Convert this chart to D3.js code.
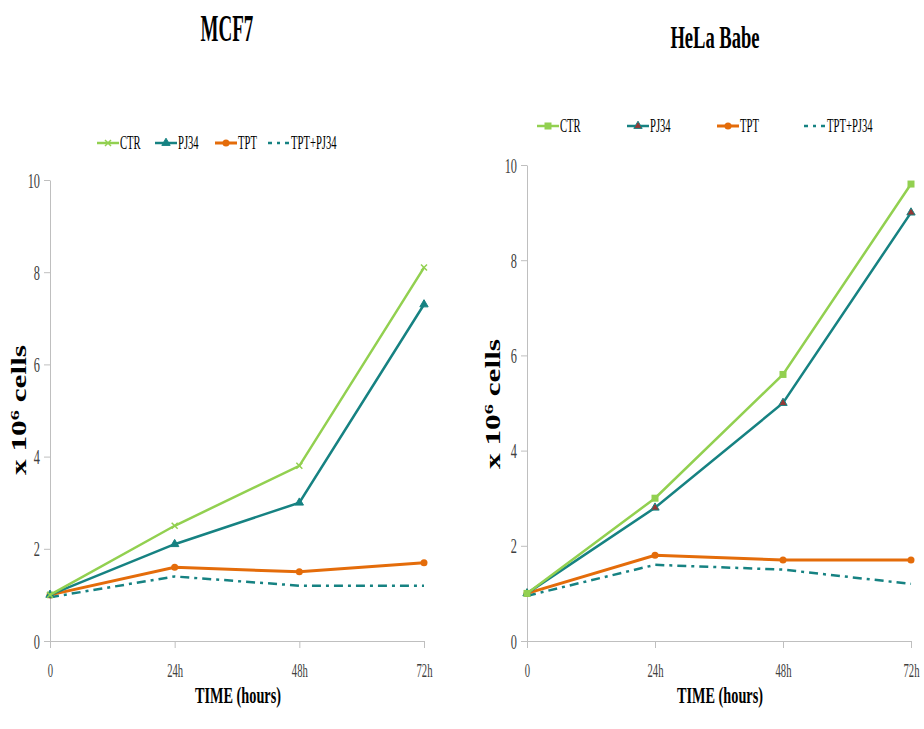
<!DOCTYPE html>
<html>
<head>
<meta charset="utf-8">
<script src="https://cdn.jsdelivr.net/npm/d3@7"></script>
<style>
  body { margin: 0; background: #fff; }
  svg { display: block; font-family: "Liberation Serif", "Times New Roman", serif; }
</style>
</head>
<body>
<svg id="drawing_region"></svg>
<script>
// time points
const times = ['0', '24h', '48h', '72h'];
const yTicks = [0, 2, 4, 6, 8, 10];
const seriesNames = ['CTR', 'PJ34', 'TPT', 'TPT+PJ34'];

// MCF7 (x 10^6 cells)
const mcfCTR   = [1.0, 2.5, 3.8, 8.1];
const mcfPJ34  = [1.0, 2.1, 3.0, 7.3];
const mcfTPT   = [1.0, 1.6, 1.5, 1.7];
const mcfCombo = [0.95, 1.4, 1.2, 1.2];

// HeLa Babe (x 10^6 cells)
const helaCTR   = [1.0, 3.0, 5.6, 9.6];
const helaPJ34  = [1.0, 2.8, 5.0, 9.0];
const helaTPT   = [1.0, 1.8, 1.7, 1.7];
const helaCombo = [0.95, 1.6, 1.5, 1.2];

const svg = d3.select('#drawing_region')
    .attr('width', 924)
    .attr('height', 729);

const styles = {
    'CTR':      {color: '#92d050', width: 2.5, dash: null},
    'PJ34':     {color: '#168282', width: 2.5, dash: null},
    'TPT':      {color: '#e46c0a', width: 3, dash: null},
    'TPT+PJ34': {color: '#168282', width: 2.5, dash: '9,5,3,5'}
};

// text in the picture is condensed horizontally
const SX = 0.56;
function squeeze(sel, x, y, sx) {
    sel.attr('x', 0).attr('y', 0)
        .attr('transform', `translate(${x},${y}) scale(${sx || SX},1)`);
}

function drawMarker(g, name, variant, x, y) {
    const c = styles[name].color;
    if (name === 'CTR') {
        if (variant === 'square') {
            g.append('rect').attr('x', x - 3.5).attr('y', y - 3.5)
                .attr('width', 7).attr('height', 7).attr('fill', c);
        } else {
            g.append('path')
                .attr('d', `M${x-3},${y-3}L${x+3},${y+3}M${x-3},${y+3}L${x+3},${y-3}`)
                .attr('stroke', c).attr('stroke-width', 1.5);
        }
    } else if (name === 'PJ34') {
        g.append('path')
            .attr('d', d3.symbol(d3.symbolTriangle, 30)())
            .attr('transform', `translate(${x},${y})`)
            .attr('fill', variant === 'square' ? '#953735' : c)
            .attr('stroke', c).attr('stroke-width', 1);
    } else if (name === 'TPT') {
        g.append('circle').attr('cx', x).attr('cy', y).attr('r', 3.5).attr('fill', c);
    }
}

function drawPanel(cfg) {
    const g = svg.append('g');

    const xscale = d3.scalePoint()
        .domain(times)
        .range([cfg.left, cfg.right]);

    const yscale = d3.scaleLinear()
        .domain([0, 10])
        .range([cfg.bottom, cfg.top]);

    // y axis
    const yaxis = d3.axisLeft(yscale)
        .tickValues(yTicks)
        .tickSize(6)
        .tickPadding(5)
        .tickSizeOuter(0);
    const yg = g.append('g')
        .attr('transform', `translate(${cfg.left},0)`)
        .call(yaxis);
    yg.select('.domain').attr('stroke', '#bfbfbf');
    yg.selectAll('.tick line').attr('stroke', '#bfbfbf');
    yg.selectAll('.tick text')
        .attr('fill', '#404040')
        .attr('font-family', '"Liberation Serif", serif')
        .attr('font-size', 22)
        .attr('transform', `scale(${SX},1)`)
        .attr('x', -10 / SX);

    // x axis
    const xaxis = d3.axisBottom(xscale)
        .tickSize(7)
        .tickPadding(16)
        .tickSizeOuter(0);
    const xg = g.append('g')
        .attr('transform', `translate(0,${cfg.bottom})`)
        .call(xaxis);
    xg.select('.domain').attr('stroke', '#bfbfbf');
    xg.selectAll('.tick line').attr('stroke', '#bfbfbf');
    xg.selectAll('.tick text')
        .attr('fill', '#404040')
        .attr('font-family', '"Liberation Serif", serif')
        .attr('font-size', 19)
        .attr('transform', `scale(${SX},1)`);

    // lines
    const line = d3.line()
        .x((d, i) => xscale(times[i]))
        .y(d => yscale(d));

    const order = ['TPT+PJ34', 'TPT', 'PJ34', 'CTR'];
    order.forEach(name => {
        const st = styles[name];
        g.append('path')
            .attr('d', line(cfg.data[name]))
            .attr('fill', 'none')
            .attr('stroke', st.color)
            .attr('stroke-width', st.width)
            .attr('stroke-dasharray', st.dash);
        cfg.data[name].forEach((v, i) => {
            drawMarker(g, name, cfg.marker, xscale(times[i]), yscale(v));
        });
    });

    // title
    const tt = g.append('text')
        .text(cfg.title)
        .attr('text-anchor', 'middle')
        .attr('font-weight', 'bold')
        .attr('font-size', cfg.titleSize);
    squeeze(tt, cfg.titleX, cfg.titleY, cfg.titleSX);

    // x label
    const xl = g.append('text')
        .text('TIME (hours)')
        .attr('text-anchor', 'middle')
        .attr('font-weight', 'bold')
        .attr('font-size', 23);
    squeeze(xl, cfg.xlabX, 703, 0.62);

    // y label
    const yl = g.append('text')
        .attr('transform', `translate(${cfg.ylabX},${cfg.ylabY}) rotate(-90)`)
        .attr('text-anchor', 'middle')
        .attr('font-weight', 'bold')
        .attr('font-size', 20)
        .attr('textLength', 130)
        .attr('lengthAdjust', 'spacingAndGlyphs');
    yl.append('tspan').text('x 10');
    yl.append('tspan').text('6').attr('font-size', 13).attr('dy', -7);
    yl.append('tspan').text(' cells').attr('dy', 7);

    // legend
    seriesNames.forEach((name, i) => {
        const st = styles[name];
        const lx = cfg.legendX[i];
        const ly = cfg.legendY;
        g.append('line')
            .attr('x1', lx).attr('x2', lx + 22)
            .attr('y1', ly).attr('y2', ly)
            .attr('stroke', st.color)
            .attr('stroke-width', st.width)
            .attr('stroke-dasharray', name === 'TPT+PJ34' ? '4,5,3,5' : null);
        drawMarker(g, name, cfg.marker, lx + 11, ly);
        const t = g.append('text')
            .text(name)
            .attr('font-size', 19)
            .attr('fill', '#000');
        squeeze(t, lx + 23, ly + 6);
    });
}

drawPanel({
    left: 50, right: 424, top: 180, bottom: 641,
    title: 'MCF7', titleX: 227, titleY: 41, titleSize: 38, titleSX: 0.5,
    xlabX: 238, ylabX: 26, ylabY: 410,
    legendX: [97, 155, 215, 268], legendY: 143,
    marker: 'x',
    data: {'CTR': mcfCTR, 'PJ34': mcfPJ34, 'TPT': mcfTPT, 'TPT+PJ34': mcfCombo}
});

drawPanel({
    left: 527, right: 911, top: 165, bottom: 641,
    title: 'HeLa Babe', titleX: 715, titleY: 48, titleSize: 32, titleSX: 0.58,
    xlabX: 720, ylabX: 500, ylabY: 404,
    legendX: [537, 627, 717, 804], legendY: 126,
    marker: 'square',
    data: {'CTR': helaCTR, 'PJ34': helaPJ34, 'TPT': helaTPT, 'TPT+PJ34': helaCombo}
});
</script>
</body>
</html>
